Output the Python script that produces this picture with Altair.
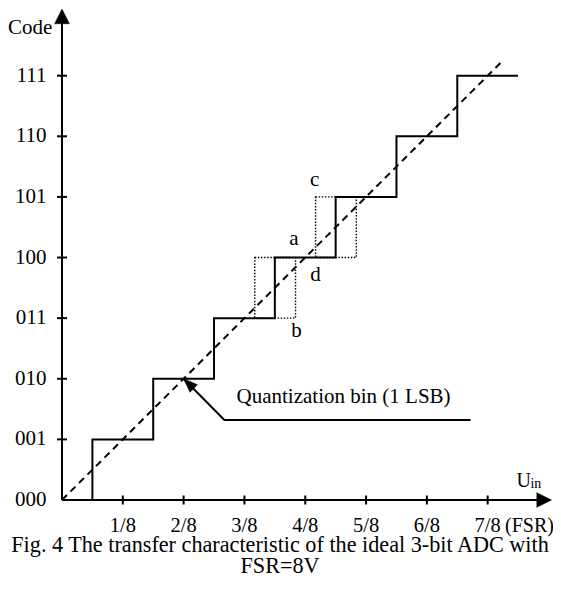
import altair as alt
import pandas as pd

# ---------------- data ----------------
CODE_LABELS = ["000", "001", "010", "011", "100", "101", "110", "111"]
CODE_VALUES = [0, 1, 2, 3, 4, 5, 6, 7]
FSR_LABELS = ["1/8", "2/8", "3/8", "4/8", "5/8", "6/8", "7/8"]
FSR_VALUES = [1, 2, 3, 4, 5, 6, 7]
X_DOMAIN = [0, 8.074]
Y_DOMAIN = [0, 8.1]
X_AXIS_END = 8.05
Y_AXIS_END = 8.1

# ideal ADC staircase (transition points, code reached)
STEP_X = [0.5, 1.5, 2.5, 3.5, 4.5, 5.5, 6.5, 7.5]
STEP_CODE = [0, 1, 2, 3, 4, 5, 6, 7]

# ideal straight transfer line
IDEAL_X = [0.0, 7.22]
IDEAL_CODE = [0.0, 7.22]

# dotted boxes around two transitions
BOX_LEFT = [3.17, 4.17]
BOX_RIGHT = [3.84, 4.84]
BOX_LOW = [3, 4]
BOX_HIGH = [4, 5]

# point letters
MARK_LABELS = ["a", "b", "c", "d"]
MARK_X = [3.815, 3.855, 4.156, 4.167]
MARK_Y = [4.30, 2.78, 5.28, 3.71]

# quantization-bin callout
LEADER_X = [2.0, 2.67, 6.72]
LEADER_Y = [2.0, 1.32, 1.32]
NOTE_TEXT = ["Quantization bin (1 LSB)"]
NOTE_X = [2.87]
NOTE_Y = [1.70]

# label placement (in axis units)
Y_LABEL_X = -0.255
X_LABEL_Y = -0.43

# other texts
Y_TITLE = ["Code"]
Y_TITLE_X = [-0.16]
Y_TITLE_Y = [7.78]
X_UNIT = ["(FSR)"]
X_UNIT_X = [7.285]
X_UNIT_Y = [-0.43]
CAPTION = ["Fig. 4 The transfer characteristic of the ideal 3-bit ADC with", "FSR=8V"]
CAPTION_X = [3.585, 3.585]
CAPTION_Y = [-0.745, -1.095]

FONT = "Liberation Serif"
XS = alt.Scale(domain=X_DOMAIN, nice=False, zero=False, padding=0)
YS = alt.Scale(domain=Y_DOMAIN, nice=False, zero=False, padding=0)


def xq(field):
    return alt.X(field, scale=XS, axis=None)


def yq(field):
    return alt.Y(field, scale=YS, axis=None)


def text_layer(xs, ys, texts, size, align, baseline="middle"):
    return alt.Chart(pd.DataFrame({"x": xs, "y": ys, "t": texts})).mark_text(
        font=FONT, fontSize=size, align=align, baseline=baseline, color="black"
    ).encode(x=xq("x:Q"), y=yq("y:Q"), text="t:N")


# ---------------- layers ----------------
boxes = alt.Chart(pd.DataFrame({"x": BOX_LEFT, "x2": BOX_RIGHT, "y": BOX_LOW, "y2": BOX_HIGH})).mark_rect(
    fill="white", fillOpacity=0, stroke="black", strokeWidth=1.4, strokeDash=[1.5, 1.6]
).encode(x=xq("x:Q"), x2="x2:Q", y=yq("y:Q"), y2="y2:Q")

ideal = alt.Chart(pd.DataFrame({"x": IDEAL_X, "y": IDEAL_CODE})).mark_line(
    color="black", strokeWidth=2, strokeDash=[7, 5]
).encode(x=xq("x:Q"), y=yq("y:Q"))

steps = alt.Chart(pd.DataFrame({"x": STEP_X, "y": STEP_CODE})).mark_line(
    color="black", strokeWidth=2, interpolate="step-before"
).encode(x=xq("x:Q"), y=yq("y:Q"))

x_axis = alt.Chart(pd.DataFrame({"x": [0.0], "x2": [X_AXIS_END - 0.12], "y": [0.0]})).mark_rule(
    color="black", strokeWidth=2
).encode(x=xq("x:Q"), x2="x2:Q", y=yq("y:Q"))

y_axis = alt.Chart(pd.DataFrame({"x": [0.0], "y": [0.0], "y2": [Y_AXIS_END - 0.12]})).mark_rule(
    color="black", strokeWidth=2
).encode(x=xq("x:Q"), y=yq("y:Q"), y2="y2:Q")

x_ticks = alt.Chart(pd.DataFrame({"x": FSR_VALUES, "y": [0] * len(FSR_VALUES)})).mark_tick(
    orient="vertical", size=9, thickness=2, color="black", opacity=1
).encode(x=xq("x:Q"), y=yq("y:Q"))

y_ticks = alt.Chart(pd.DataFrame({"x": [0] * 7, "y": CODE_VALUES[1:]})).mark_tick(
    orient="horizontal", size=10, thickness=2, color="black", opacity=1
).encode(x=xq("x:Q"), y=yq("y:Q"))

x_labels = text_layer(FSR_VALUES, [X_LABEL_Y] * len(FSR_VALUES), FSR_LABELS, 20.5, "center")
y_labels = text_layer([Y_LABEL_X] * len(CODE_VALUES), CODE_VALUES, CODE_LABELS, 21, "right")

axis_heads = alt.Chart(pd.DataFrame({"x": [0.0, X_AXIS_END], "y": [Y_AXIS_END, 0.0], "angle": [0, 90]})).mark_point(
    shape="M0,0 L-0.5,1 L0.5,1 Z", size=870, filled=True, fill="black", stroke="black", strokeWidth=0.5, opacity=1
).encode(x=xq("x:Q"), y=yq("y:Q"), angle=alt.Angle("angle:Q", scale=None))

leader = alt.Chart(pd.DataFrame({"x": LEADER_X, "y": LEADER_Y, "o": [0, 1, 2]})).mark_line(
    color="black", strokeWidth=2
).encode(x=xq("x:Q"), y=yq("y:Q"), order="o:Q")

leader_head = alt.Chart(pd.DataFrame({"x": LEADER_X[:1], "y": LEADER_Y[:1], "angle": [314]})).mark_point(
    shape="M0,0 L-0.38,1 L0.38,1 Z", size=784, filled=True, fill="black", stroke="black", strokeWidth=0.5, opacity=1
).encode(x=xq("x:Q"), y=yq("y:Q"), angle=alt.Angle("angle:Q", scale=None))

note = text_layer(NOTE_X, NOTE_Y, NOTE_TEXT, 21, "left")
letters = text_layer(MARK_X, MARK_Y, MARK_LABELS, 21, "center")
y_title = text_layer(Y_TITLE_X, Y_TITLE_Y, Y_TITLE, 21, "right")
x_unit = text_layer(X_UNIT_X, X_UNIT_Y, X_UNIT, 20, "left")
u_main = text_layer([7.472], [0.22], ["U"], 20, "left", "alphabetic")
u_sub = text_layer([7.703], [0.19], ["in"], 14, "left", "alphabetic")
caption = text_layer(CAPTION_X, CAPTION_Y, CAPTION, 22.2, "center")

chart = alt.layer(
    boxes, ideal, steps, x_axis, y_axis, x_ticks, y_ticks, x_labels, y_labels, axis_heads,
    leader, leader_head, note, letters, y_title, x_unit, u_main, u_sub, caption,
).properties(
    width=491, height=491,
    padding={"left": 54, "top": 1, "right": 0, "bottom": 78},
    autosize=alt.AutoSizeParams(type="none"),
    background="white",
).configure_view(stroke=None)

chart.save("out.html", embed_options={"renderer": "svg", "actions": False})
